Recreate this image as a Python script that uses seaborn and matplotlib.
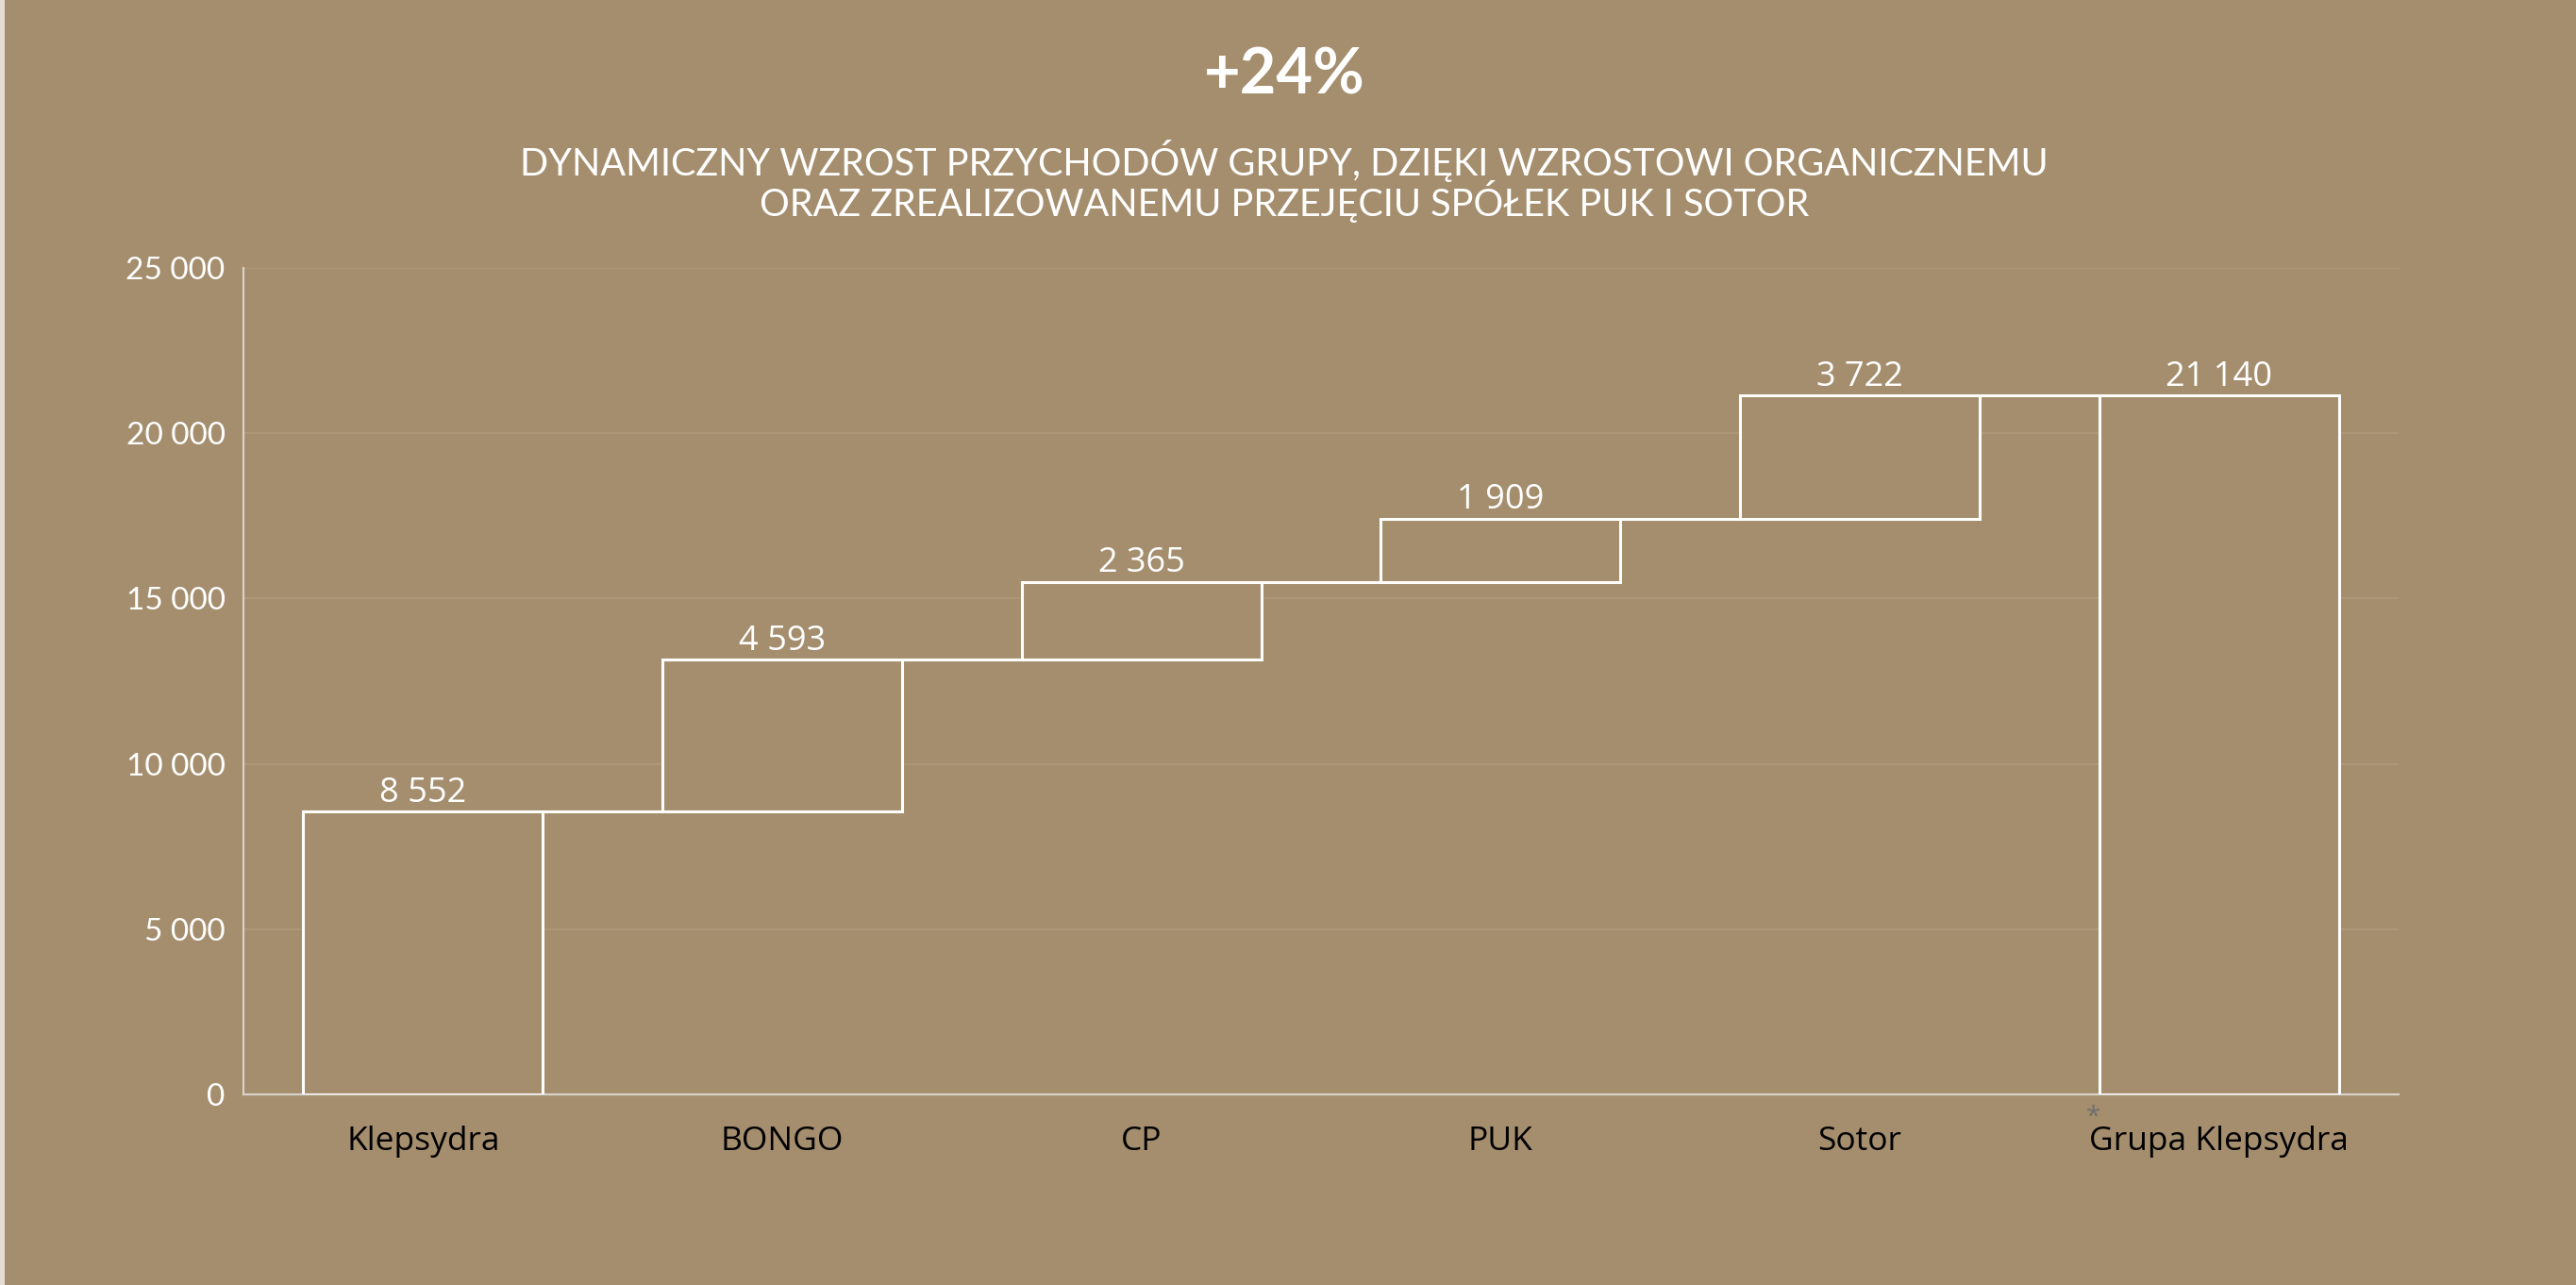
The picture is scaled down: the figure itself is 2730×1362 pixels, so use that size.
import numpy as np
import pandas as pd
import matplotlib
matplotlib.use("Agg")
import matplotlib.pyplot as plt
import seaborn as sns
from matplotlib.patches import Rectangle
from matplotlib.ticker import FuncFormatter

# data
categories = ["Klepsydra", "BONGO", "CP", "PUK", "Sotor", "Grupa Klepsydra"]
deltas = [8552, 4593, 2365, 1909, 3722]
total = 21140
title = "+24%"
subtitle = ("DYNAMICZNY WZROST PRZYCHODÓW GRUPY, DZIĘKI WZROSTOWI ORGANICZNEMU\n"
            "ORAZ ZREALIZOWANEMU PRZEJĘCIU SPÓŁEK PUK I SOTOR")
yticks = [0, 5000, 10000, 15000, 20000, 25000]

bg = "#A58E6E"
grid_c = "#B09A7C"

# waterfall table: bottoms and heights
cum = np.cumsum([0] + deltas)
bottoms = list(cum[:-1]) + [0]
heights = deltas + [total]
labels = deltas + [total]
df = pd.DataFrame({"cat": categories, "height": heights, "bottom": bottoms})


def pl_fmt(v, pos=None):
    return f"{int(v):,}".replace(",", " ")


sns.set_theme(style="white")
plt.rcParams["font.family"] = ["Open Sans", "DejaVu Sans"]

fig = plt.figure(figsize=(27.3, 13.62), dpi=100, facecolor="#E4DDD3")
fig.patches.append(Rectangle((5 / 2730, 0), 1, 1, transform=fig.transFigure,
                             facecolor=bg, edgecolor="none", zorder=-10))
ax = fig.add_axes([258 / 2730, 1 - 1160 / 1362, (2542 - 258) / 2730, (1160 - 284) / 1362])
ax.set_facecolor(bg)

bar_w = 0.667
sns.barplot(data=df, x="cat", y="height", bottom=df["bottom"].to_numpy(), ax=ax,
            width=bar_w, color=bg, edgecolor="white", linewidth=2.2, saturation=1, zorder=3)

# connector lines between consecutive bars
tops = [b + h for b, h in zip(bottoms, heights)]
for i in range(len(categories) - 1):
    ax.hlines(tops[i], i + bar_w / 2, i + 1 - bar_w / 2, color="white", lw=2.2, zorder=3)

# value labels above each bar
for i, v in enumerate(labels):
    ax.text(i, tops[i] + 40, pl_fmt(v), ha="center", va="bottom",
            color="white", fontsize=26)

ax.set_xlim(-0.5, len(categories) - 0.5)
ax.set_ylim(0, 25000)
ax.set_yticks(yticks)
ax.yaxis.set_major_formatter(FuncFormatter(pl_fmt))
ax.grid(axis="y", color=grid_c, lw=1.2, zorder=0)
ax.grid(axis="x", visible=False)
for s in ["top", "right"]:
    ax.spines[s].set_visible(False)
for s in ["left", "bottom"]:
    ax.spines[s].set_color("#D8D2CA")
    ax.spines[s].set_linewidth(1.6)
ax.set_xlabel("")
ax.set_ylabel("")
ax.tick_params(axis="y", length=0, pad=14, labelsize=24, labelcolor="white")
ax.tick_params(axis="x", length=0, pad=24, labelsize=25.5, labelcolor="black")
for t in ax.get_yticklabels():
    t.set_family(["Lato", "DejaVu Sans"])

# asterisk next to last category label
ax.text(4.65, -0.028, "*", transform=ax.get_xaxis_transform(), ha="center", va="center",
        color="#6E6E6E", fontsize=20)

fig.text(0.4985, 0.941, title, ha="center", va="center", color="white",
         fontsize=48, fontweight="bold", family=["Lato", "DejaVu Sans"])
fig.text(0.4985, 0.859, subtitle, ha="center", va="center", color="white",
         fontsize=28.5, family=["Lato", "DejaVu Sans"], linespacing=0.97)

fig.savefig("out.png", dpi=100, facecolor=fig.get_facecolor())
